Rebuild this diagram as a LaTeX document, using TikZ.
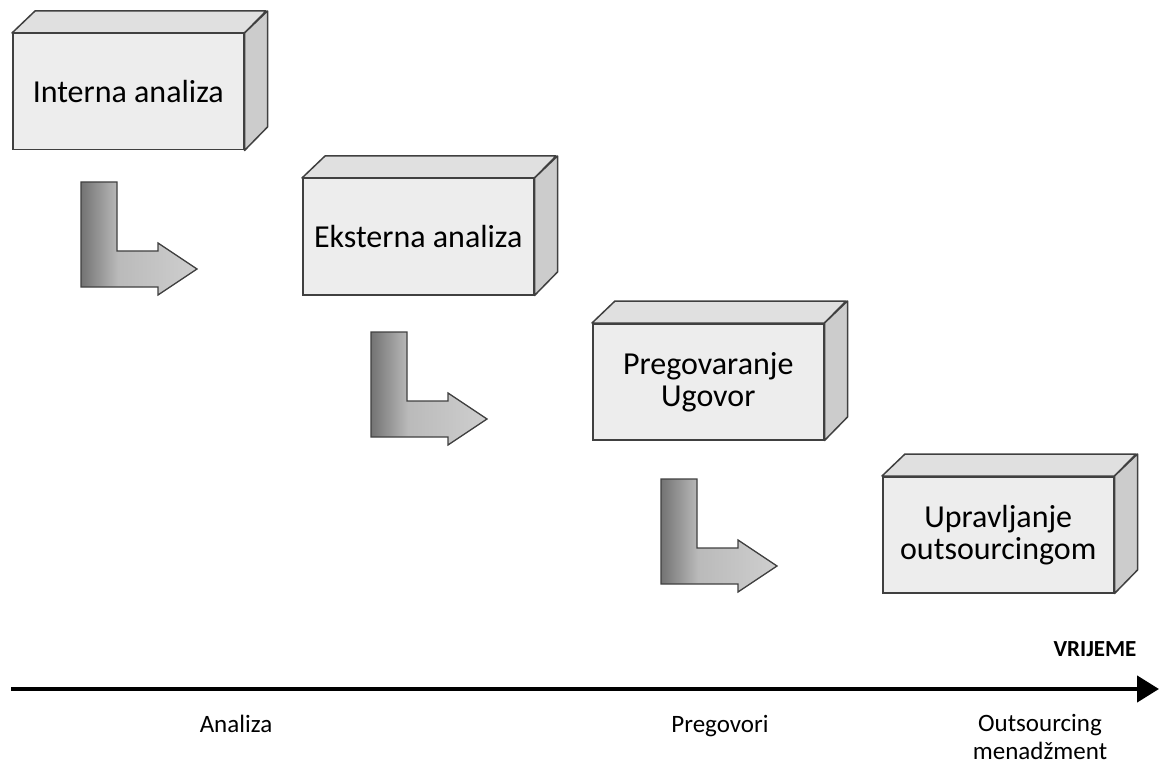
\documentclass[tikz,border=0pt]{standalone}
\usepackage{fontspec}
\setmainfont{Carlito}
\usetikzlibrary{arrows.meta}

% gradient of the L-shaped arrows: dark on the left, light on the right
\pgfdeclarehorizontalshading{lshade}{100bp}{color(0bp)=(black!55); color(25bp)=(black!55); color(41bp)=(black!27); color(75bp)=(black!19); color(100bp)=(black!19)}

\tikzset{
  front/.style={draw=black!75, line width=1.5pt, fill=black!7, anchor=north west,
    minimum width=231pt, minimum height=116pt, inner sep=0pt, align=center,
    font=\fontsize{32}{32}\selectfont},
  topface/.style={draw=black!75, line width=1.5pt, fill=black!12, line join=round},
  sideface/.style={draw=black!75, line width=1.5pt, fill=black!20, line join=round},
  larrow/.style={draw=black!75, line width=1.3pt, shading=lshade, line join=miter},
  label/.style={font=\fontsize{25}{28}\selectfont, align=center}
}

\begin{document}
\begin{tikzpicture}[x=1pt, y=-1pt]
    \useasboundingbox (0,0) rectangle (1161,767);

    % Boxes
    \node[front] (interna) at (12,33) {Interna analiza};
    \node[front] (eksterna) at (302,178) {Eksterna analiza};
    \node[front] (pregov) at (592,323) {Pregovaranje\\Ugovor};
    \node[front] (upravlj) at (882,476) {Upravljanje\\outsourcingom};

    \foreach \b in {interna,eksterna,pregov,upravlj} {
        \draw[topface] (\b.north west) -- ++(23,-22) -- ++(231,0) -- (\b.north east) -- cycle;
        \draw[sideface] (\b.north east) -- ++(23,-22) -- ++(0,116) -- (\b.south east) -- cycle;
    }

    % L-shaped arrows
    \foreach \x/\y in {81/182, 371/332, 661/479} {
        \begin{scope}[shift={(\x,\y)}]
            \path[larrow] (0,0) -- (36,0) -- (36,69) -- (77,69) -- (77,61) -- (116,87)
                -- (77,113) -- (77,105) -- (0,105) -- cycle;
        \end{scope}
    }

    % Time axis
    \coordinate (t0) at (11,689);
    \coordinate (t1) at (1159,689);
    \draw[line width=4.5pt, -{Triangle[length=22pt,width=26pt]}] (t0) -- (t1);
    \node[font=\fontsize{23}{26}\selectfont\bfseries, anchor=base] (vrijeme) at (1095,656) {VRIJEME};

    \node[label, anchor=base] (analiza) at (236,732) {Analiza};
    \node[label, anchor=base] (pregovori) at (720,732) {Pregovori};
    \node[label, anchor=north] (osm) at (1040,711) {Outsourcing\\menadžment};
\end{tikzpicture}
\end{document}
